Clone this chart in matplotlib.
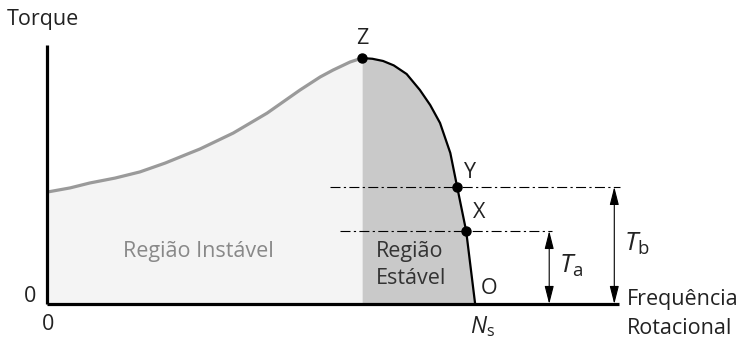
import matplotlib
matplotlib.use("Agg")
import matplotlib.pyplot as plt
import numpy as np

"""
Curva torque x velocidade de um motor de inducao
(velocidade em % de Ns, torque em % do torque maximo)
"""

# parte instavel (cinza), do repouso ate o ponto Z
speed_unstable = [0, 5.4, 10.0, 15.9, 21.7, 27.6, 33.4, 35.7, 43.5, 51.4, 59.1, 63.8, 66.8, 70.8, 73.6]
torque_unstable = [45.5, 47.2, 49.2, 51.2, 53.7, 57.3, 61.4, 63.0, 69.5, 77.6, 87.0, 92.3, 95.1, 98.4, 100.0]

# parte estavel (preta), de Z ate Ns
speed_stable = [73.6, 76.0, 78.5, 81.0, 84.0, 87.1, 89.5, 91.8, 94.2, 95.8, 97.9, 100.0]
torque_stable = [100.0, 99.7, 98.8, 97.0, 93.5, 87.0, 80.9, 73.6, 61.4, 47.6, 29.7, 0.0]

# pontos marcados
point_names = ["Z", "Y", "X"]
point_speed = [73.6, 95.8, 97.9]
point_torque = [100.0, 47.6, 29.7]

plt.rcParams["font.family"] = ["Open Sans", "DejaVu Sans"]
plt.rcParams["mathtext.fontset"] = "custom"
plt.rcParams["mathtext.rm"] = "Open Sans"
plt.rcParams["mathtext.it"] = "Open Sans:italic"

W, H = 748, 341
fig = plt.figure(figsize=(W / 100, H / 100), dpi=100)
ax = fig.add_axes([47 / W, 1 - 304 / H, 572 / W, 259 / H])
ax.set_xlim(0, 133.6)
ax.set_ylim(0, 105.3)


def px(x, y):
    # pixel da imagem -> fracao da figura
    return x / W, 1 - y / H


# areas
ax.fill_between(speed_unstable, 0, torque_unstable, color="#f4f4f4", lw=0)
ax.fill_between(speed_stable, 0, torque_stable, color="#c9c9c9", lw=0)

# curvas
ax.plot(speed_unstable, torque_unstable, color="#9a9a9a", lw=2.3,
        solid_capstyle="round", solid_joinstyle="round")
ax.plot(speed_stable, torque_stable, color="black", lw=1.6,
        solid_capstyle="butt", solid_joinstyle="round")
ax.plot(point_speed, point_torque, "o", color="black", ms=6.5, zorder=5)

# linhas tracejadas de Y e X
ty = point_torque[1]
tx = point_torque[2]
ax.plot([66.1, 133.9], [ty, ty], color="black", lw=0.8,
        linestyle=(0, (9, 3, 2, 3)), clip_on=False)
ax.plot([68.5, 118.0], [tx, tx], color="black", lw=0.8,
        linestyle=(0, (9, 3, 2, 3)), clip_on=False)

# setas Ta e Tb
arrow = dict(arrowstyle="<|-|>,head_length=1.1,head_width=0.28", color="black",
             lw=0.8, mutation_scale=10, shrinkA=0, shrinkB=0)
ax.annotate("", xy=(117.3, tx), xytext=(117.3, 0), arrowprops=arrow)
ax.annotate("", xy=(132.5, ty), xytext=(132.5, 0), arrowprops=arrow, annotation_clip=False)

# eixos
for s in ["top", "right"]:
    ax.spines[s].set_visible(False)
for s in ["left", "bottom"]:
    ax.spines[s].set_linewidth(2.3)
    ax.spines[s].set_capstyle("butt")
ax.set_xticks([])
ax.set_yticks([])
ax.patch.set_alpha(0)

fs = 15.5
tc = "#222222"
fig.text(*px(7, 20), "Torque", fontsize=fs, color=tc, ha="left", va="center")
fig.text(*px(30, 296), "0", fontsize=fs, color=tc, ha="center", va="center")
fig.text(*px(48, 324), "0", fontsize=fs, color=tc, ha="center", va="center")
fig.text(*px(362, 39), "Z", fontsize=fs, color=tc, ha="center", va="center")
fig.text(*px(470, 173), "Y", fontsize=fs, color=tc, ha="center", va="center")
fig.text(*px(479, 212), "X", fontsize=fs, color=tc, ha="center", va="center")
fig.text(*px(489, 289), "O", fontsize=fs, color=tc, ha="center", va="center")
fig.text(*px(482, 327), r"$N_\mathrm{s}$", fontsize=16.5, color=tc, ha="center", va="center")
fig.text(*px(571, 266), r"$T_\mathrm{a}$", fontsize=19, color=tc, ha="center", va="center")
fig.text(*px(637, 244), r"$T_\mathrm{b}$", fontsize=19, color=tc, ha="center", va="center")
fig.text(*px(627, 300), "Frequência", fontsize=fs, color=tc, ha="left", va="center")
fig.text(*px(627, 328), "Rotacional", fontsize=fs, color=tc, ha="left", va="center")
fig.text(*px(198, 251), "Região Instável", fontsize=fs, color="#888888", ha="center", va="center")
fig.text(*px(376, 252), "Região", fontsize=fs, color="#333333", ha="left", va="center")
fig.text(*px(376, 279), "Estável", fontsize=fs, color="#333333", ha="left", va="center")

fig.savefig("out.png", dpi=100, facecolor="white")
